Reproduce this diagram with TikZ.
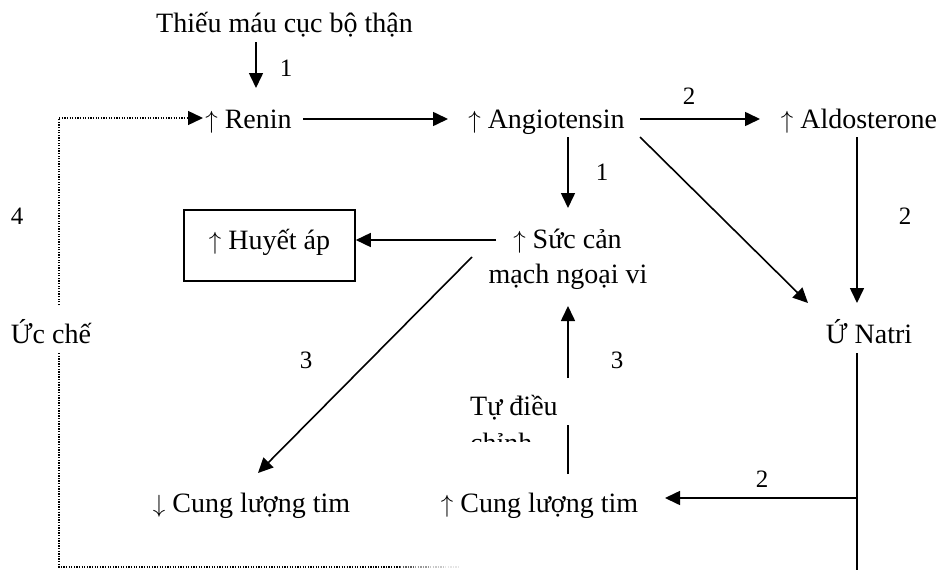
\documentclass[tikz,border=0pt]{standalone}
\usepackage{fontspec}
\setmainfont{Liberation Serif}
\usetikzlibrary{arrows.meta,calc}
\begin{document}
\begin{tikzpicture}[x=1pt,y=-1pt,
  lbl/.style={inner sep=0pt,anchor=base,font=\fontsize{28}{33}\selectfont},
  num/.style={inner sep=0pt,anchor=base,font=\fontsize{25}{30}\selectfont},
  arr/.style={line width=1.6pt,-{Triangle[length=15pt,width=14pt]}},
  ln/.style={line width=1.6pt},
  dotln/.style={line width=1.4pt,dash pattern=on 1.3pt off 1.3pt}]
\useasboundingbox (0,0) rectangle (940,570);

% nodes
\node[lbl] (thieu) at (284.5,32) {Thiếu máu cục bộ thận};
\node[lbl] (renin) at (248.5,128) {$\uparrow$ Renin};
\node[lbl] (ang) at (546.5,128) {$\uparrow$ Angiotensin};
\node[lbl] (ald) at (859,128) {$\uparrow$ Aldosterone};
\node[draw,line width=1.6pt,minimum width=171pt,minimum height=71pt,inner sep=0pt,
      font=\fontsize{28}{33}\selectfont,text height=14pt,text depth=7pt] (huyet) at (269.5,245.5) {$\uparrow$ Huyết áp};
\node[lbl] (suc) at (567.5,248) {$\uparrow$ Sức cản};
\node[lbl] (mach) at (568,283) {mạch ngoại vi};
\node[lbl] (uc) at (51,343) {Ức chế};
\node[lbl] (natri) at (869,343) {Ứ Natri};
\node[lbl] (cungdn) at (251.5,512) {$\downarrow$ Cung lượng tim};
\node[lbl] (cungup) at (539.5,512) {$\uparrow$ Cung lượng tim};
\begin{scope}
  \clip (440,380) rectangle (565,441.5);
  \node[lbl,anchor=base west] (tudieu) at (470,415) {Tự điều};
  \node[lbl,anchor=base west] (chinh) at (470,452) {chỉnh};
\end{scope}

% numbers
\node[num] (n1a) at (286,76) {1};
\node[num] (n1b) at (602,180) {1};
\node[num] (n2a) at (689,104) {2};
\node[num] (n2b) at (905,224) {2};
\node[num] (n4) at (17,224) {4};
\node[num] (n3a) at (306,368) {3};
\node[num] (n3b) at (617,368) {3};
\node[num] (n2c) at (762,487) {2};

% connectors
\draw[arr] ($(thieu.base)+(-28.5,10)$) -- ($(renin.base)+(7.5,-40)$);
\draw[arr] ($(renin.base)+(54.5,-9)$) -- ($(ang.base)+(-98.5,-9)$);
\draw[arr] ($(ang.base)+(93.5,-9)$) -- ($(ald.base)+(-99,-9)$);
\draw[arr] ($(ang.base)+(21.5,9)$) -- ($(suc.base)+(0.5,-40)$);
\draw[arr] ($(ang.base)+(93.5,9)$) -- ($(natri.base)+(-61,-40)$);
\draw[arr] ($(ald.base)+(-2,9)$) -- ($(natri.base)+(-12,-40)$);
\draw[arr] ($(suc.base)+(-71.5,-8)$) -- ($(huyet.east)+(0,-5.5)$);
\draw[arr] ($(suc.base)+(-95.5,9)$) -- ($(cungdn.base)+(6.5,-39)$);
\draw[ln] ($(cungup.base)+(28.5,-38)$) -- ($(tudieu.base west)+(98,10)$);
\draw[arr] ($(mach.base)+(0,95)$) -- ($(mach.base)+(0,23)$);
\coordinate (natriend) at ($(natri.base)+(-12,227)$);
\draw[ln] ($(natri.base)+(-12,10)$) -- (natriend);
\draw[arr] ($(natri.base)+(-12,155)$) -- ($(cungup.base)+(125.5,-14)$);

% dotted inhibition loop
\draw[dotln,-{Triangle[length=15pt,width=14pt]}] ($(uc.base)+(8,-38)$) |- ($(renin.base)+(-45.5,-10)$);
\coordinate (fd) at ($(uc.base)+(349,224)$);
\draw[dotln] ($(uc.base)+(8,10)$) |- (fd);
\draw[dotln,black!65] (fd) -- ++(15,0) coordinate (fd2);
\draw[dotln,black!40] (fd2) -- ++(15,0) coordinate (fd3);
\draw[dotln,black!22] (fd3) -- ++(15,0) coordinate (fd4);
\draw[dotln,black!10] (fd4) -- ++(15,0);
\end{tikzpicture}
\end{document}
